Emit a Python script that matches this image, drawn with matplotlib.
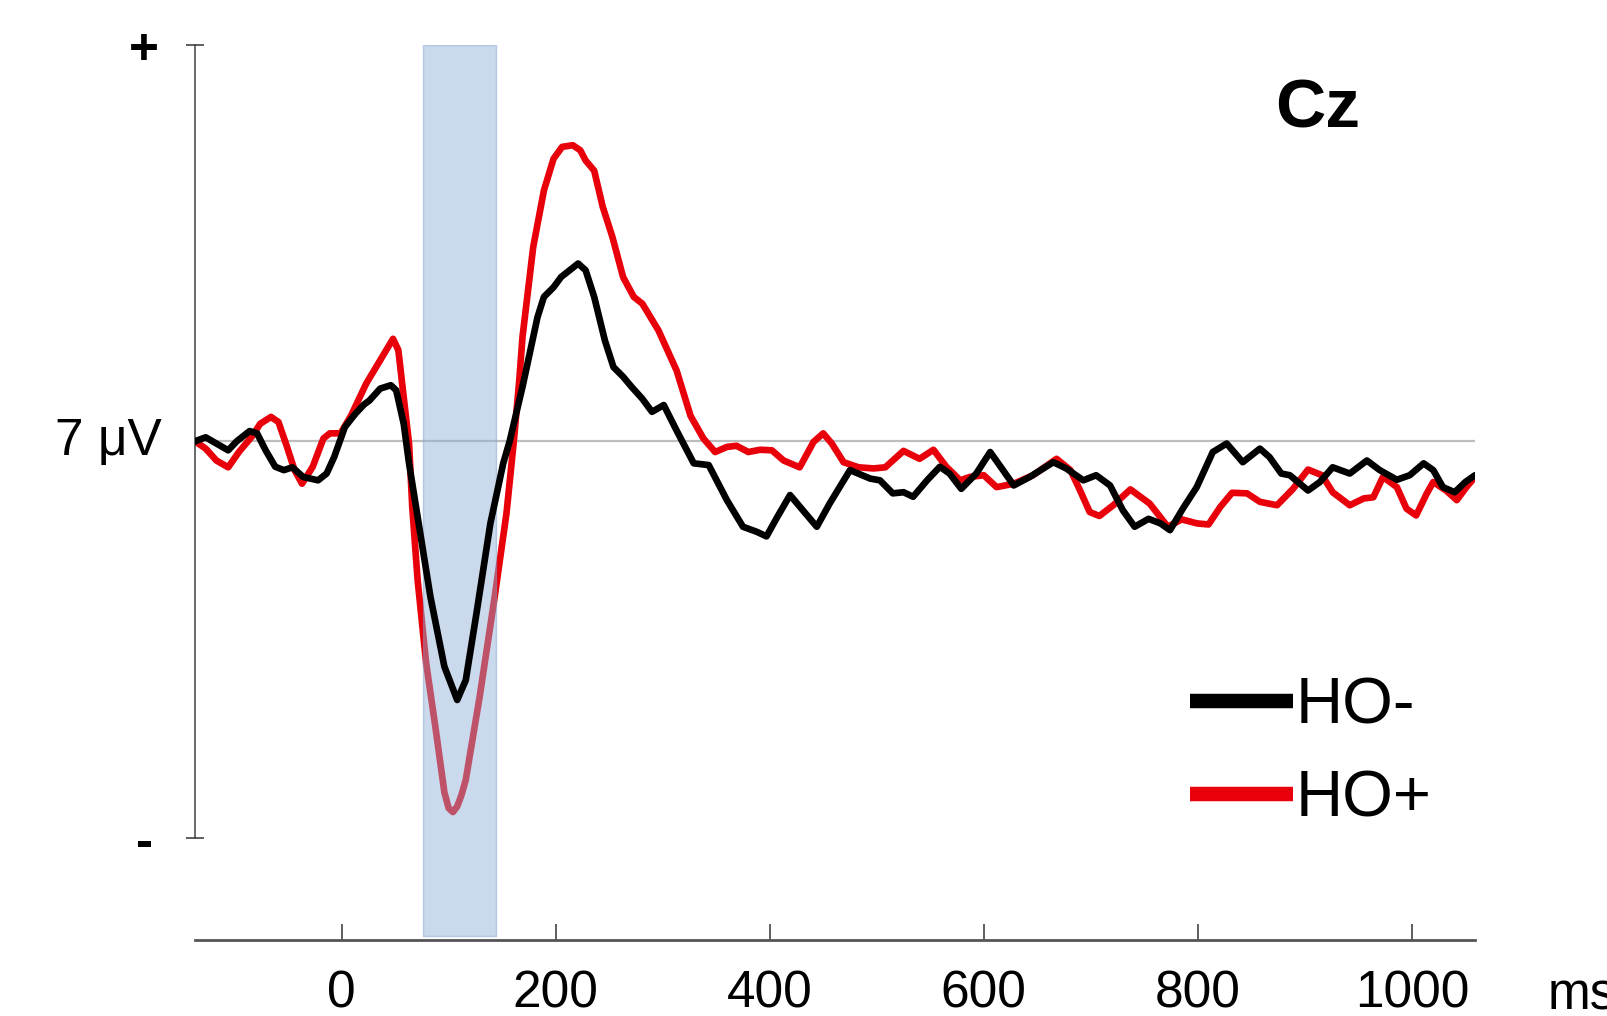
"""
ERP waveform at Cz: HO- vs HO+
"""

import matplotlib
matplotlib.use('Agg')
import matplotlib.pyplot as plt
from matplotlib.lines import Line2D

plt.rcParams['font.family'] = ['Liberation Sans', 'DejaVu Sans']

# Data (ms, uV relative to baseline)
black_t = [-137, -127, -117, -106, -98, -86, -79, -71, -62, -54, -46, -36, -22, -14, -7,
           3, 13, 21, 26, 36, 46, 51, 58, 63, 73, 83, 96, 108, 116, 126, 139, 151, 157,
           169, 183, 189, 198, 205, 213, 221, 228, 236, 246, 254, 263, 271, 281, 290,
           301, 313, 329, 343, 360, 375, 388, 397, 407, 419, 431, 444, 456, 475, 494,
           503, 515, 525, 534, 547, 559, 568, 579, 593, 606, 618, 628, 643, 665, 677,
           693, 705, 718, 730, 741, 754, 765, 774, 786, 799, 814, 827, 842, 858, 867,
           878, 886, 903, 914, 926, 942, 958, 970, 986, 998, 1011, 1020, 1029, 1040,
           1050, 1059]
black_v = [0.00, 0.07, -0.04, -0.16, 0.00, 0.18, 0.14, -0.16, -0.45, -0.51, -0.46, -0.63,
           -0.69, -0.57, -0.28, 0.25, 0.49, 0.65, 0.72, 0.93, 0.99, 0.90, 0.31, -0.39,
           -1.57, -2.75, -3.98, -4.57, -4.22, -3.04, -1.45, -0.39, 0.00, 0.96, 2.19, 2.55,
           2.72, 2.90, 3.02, 3.14, 3.02, 2.55, 1.78, 1.31, 1.14, 0.96, 0.75, 0.52, 0.64,
           0.19, -0.39, -0.42, -1.04, -1.51, -1.60, -1.68, -1.34, -0.95, -1.22, -1.51,
           -1.10, -0.51, -0.66, -0.69, -0.92, -0.90, -0.98, -0.69, -0.45, -0.57, -0.84,
           -0.57, -0.19, -0.51, -0.78, -0.63, -0.37, -0.48, -0.69, -0.60, -0.78, -1.22,
           -1.51, -1.37, -1.45, -1.57, -1.19, -0.81, -0.19, -0.04, -0.37, -0.13, -0.28,
           -0.57, -0.60, -0.87, -0.72, -0.46, -0.57, -0.34, -0.51, -0.68, -0.60, -0.39,
           -0.51, -0.81, -0.90, -0.72, -0.60]

red_t = [-137, -127, -117, -106, -96, -84, -76, -66, -59, -51, -44, -37, -27, -17, -11,
         -1, 9, 23, 36, 48, 53, 58, 63, 66, 71, 79, 88, 96, 100, 104, 108, 112, 116, 129,
         143, 154, 161, 166, 169, 179, 189, 198, 206, 216, 223, 228, 236, 244, 253, 263,
         273, 281, 296, 313, 326, 338, 349, 360, 369, 380, 391, 402, 413, 428, 441, 450,
         458, 469, 483, 497, 508, 525, 540, 553, 565, 578, 587, 600, 612, 628, 646, 668,
         681, 690, 699, 708, 721, 737, 755, 772, 785, 799, 810, 821, 832, 846, 858, 874,
         889, 903, 916, 926, 942, 955, 964, 973, 986, 995, 1004, 1014, 1020, 1032, 1042,
         1051, 1059]
red_v = [0.00, -0.13, -0.34, -0.46, -0.19, 0.08, 0.31, 0.43, 0.34, -0.10, -0.51, -0.75,
         -0.45, 0.05, 0.14, 0.14, 0.46, 1.02, 1.43, 1.81, 1.61, 0.78, -0.04, -1.16, -2.45,
         -3.92, -5.10, -6.20, -6.48, -6.55, -6.45, -6.25, -5.98, -4.51, -2.75, -1.28,
         0.02, 1.08, 1.84, 3.43, 4.43, 4.99, 5.20, 5.23, 5.14, 4.96, 4.78, 4.14, 3.61,
         2.90, 2.55, 2.43, 1.96, 1.25, 0.45, 0.05, -0.19, -0.10, -0.08, -0.19, -0.15,
         -0.16, -0.34, -0.46, -0.01, 0.14, -0.04, -0.37, -0.46, -0.48, -0.46, -0.17,
         -0.31, -0.15, -0.45, -0.69, -0.63, -0.60, -0.81, -0.75, -0.60, -0.31, -0.51,
         -0.87, -1.25, -1.32, -1.13, -0.85, -1.10, -1.51, -1.38, -1.45, -1.47, -1.16,
         -0.91, -0.92, -1.07, -1.13, -0.84, -0.50, -0.60, -0.90, -1.13, -1.01, -0.99,
         -0.63, -0.81, -1.19, -1.31, -0.92, -0.72, -0.87, -1.04, -0.81, -0.63]

window = (76.5, 144.5)   # shaded analysis window (ms)
xticks = [0, 200, 400, 600, 800, 1000]
scale_uv = 7

red = '#e8000a'

fig = plt.figure(figsize=(16.08, 10.16), dpi=100)
ax = fig.add_axes([195 / 1608, 76 / 1016, 1280 / 1608, 895 / 1016])
ax.set_xlim(-137, 1059)
ax.set_ylim(-8.81, scale_uv)

# baseline
ax.axhline(0, color='#bdbdbd', lw=1.6, zorder=1)

# HO+ under the shaded window, HO- on top
ax.plot(red_t, red_v, color=red, lw=4.8, solid_joinstyle='round',
        solid_capstyle='round', zorder=2)
ax.axvspan(window[0], window[1], ymin=0.005, ymax=1, facecolor='#8fb0d6',
           edgecolor='#7d9ec6', lw=1, alpha=0.47, zorder=3)
ax.plot(black_t, black_v, color='black', lw=4.8, solid_joinstyle='round',
        solid_capstyle='round', zorder=4)

# axes styling
for s in ['top', 'right']:
    ax.spines[s].set_visible(False)
ax.spines['left'].set_bounds(-scale_uv, scale_uv)
ax.spines['left'].set_color('#404040')
ax.spines['left'].set_linewidth(1.1)
ax.spines['bottom'].set_color('#555555')
ax.spines['bottom'].set_linewidth(2)

ax.set_xticks(xticks)
ax.set_xticklabels([str(x) for x in xticks])
ax.tick_params(axis='x', direction='in', length=11.5, width=1.1, color='#333333',
               labelsize=37, pad=21)
ax.set_yticks([-scale_uv, scale_uv])
ax.set_yticklabels(['-', '+'])
ax.tick_params(axis='y', direction='inout', length=13, width=1.1, color='#333333',
               labelsize=37, pad=30)
for lab in ax.get_yticklabels():
    lab.set_fontweight('bold')
    lab.set_horizontalalignment('center')

ax.annotate('7 μV', xy=(0, 0), xycoords=ax.get_yaxis_transform(),
            xytext=(-24, 0), textcoords='offset points',
            ha='right', va='center', fontsize=37)
fig.text(1548 / 1608, 6 / 1016, 'ms', fontsize=37, ha='left', va='baseline')
fig.text(1275 / 1608, 1 - 128 / 1016, 'Cz', fontsize=50, fontweight='bold',
         ha='left', va='baseline')

handles = [Line2D([], [], color='black', lw=10.4, solid_capstyle='butt'),
           Line2D([], [], color=red, lw=10.4, solid_capstyle='butt')]
ax.legend(handles, ['HO-', 'HO+'], loc='upper left',
          bbox_to_anchor=(1189.6 / 1608, 1 - 677 / 1016), bbox_transform=fig.transFigure,
          frameon=False, fontsize=47, handlelength=1.58, handletextpad=0.05,
          labelspacing=0.5, borderpad=0, borderaxespad=0)

plt.savefig('out.png', dpi=100)
plt.close()
